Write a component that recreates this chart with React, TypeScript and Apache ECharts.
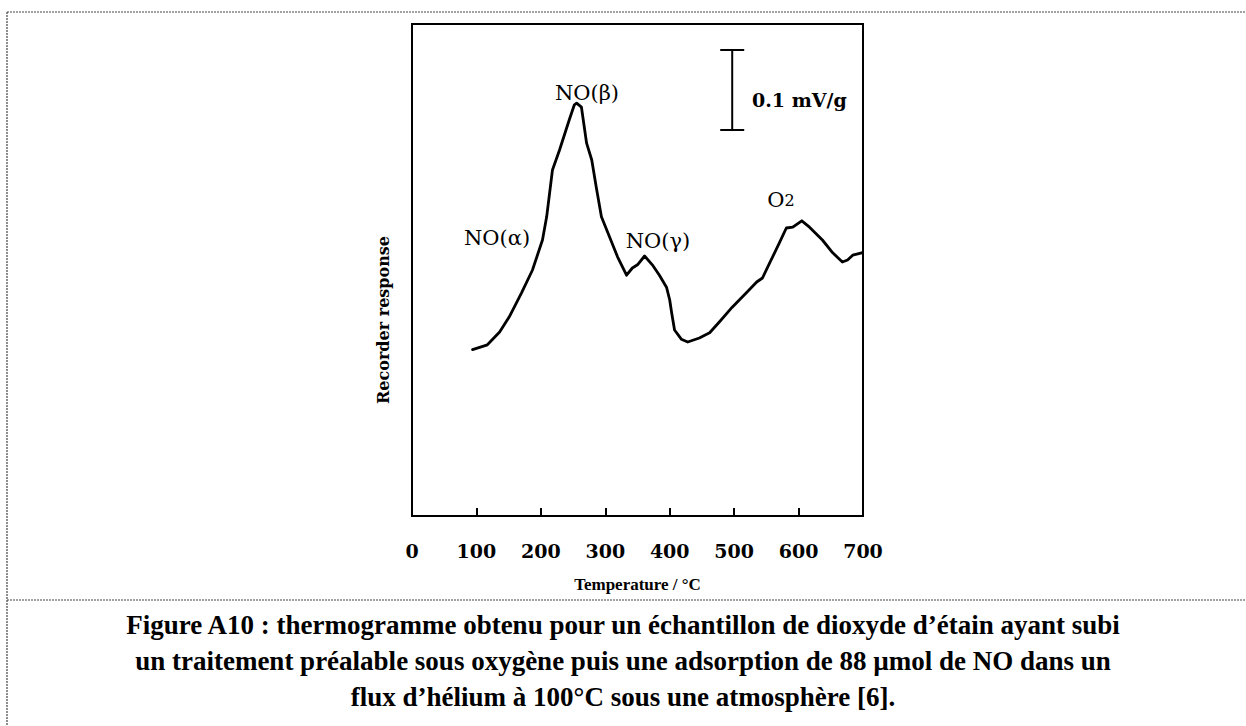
import React, { useEffect, useRef } from "react";
import * as echarts from "echarts";

// Temperature (°C) and recorder response (mV/g, relative)
const temperatures: number[] = [
  94, 117, 136, 151, 170, 187, 202.5, 209, 218, 229, 244, 252, 255.5, 263, 271, 279, 286, 294,
  306.5, 319, 333, 342, 350, 361, 373, 384, 395, 400, 403, 407.5, 418, 428, 446, 462, 477,
  497, 519, 535, 544, 555, 570, 581, 591, 605, 617, 637, 653, 668, 676, 684, 698,
];
const response: number[] = [
  0.208, 0.214, 0.23, 0.249, 0.279, 0.3075, 0.345, 0.374, 0.4325, 0.4575, 0.495, 0.514, 0.516,
  0.511, 0.466, 0.445, 0.411, 0.374, 0.349, 0.324, 0.301, 0.31, 0.314, 0.325, 0.314, 0.301,
  0.286, 0.27, 0.254, 0.2325, 0.221, 0.2175, 0.2225, 0.229, 0.2425, 0.261, 0.279, 0.2925,
  0.2975, 0.316, 0.341, 0.36, 0.361, 0.369, 0.361, 0.345, 0.329, 0.3175, 0.32, 0.326, 0.329,
];

// Scale bar: 0.1 mV/g
const scaleBarTemp = 497;
const scaleBarLow = 0.4825;
const scaleBarHigh = 0.5825;
const scaleBarLabel = "0.1 mV/g";

const xTicks: number[] = [0, 100, 200, 300, 400, 500, 600, 700];
const peakLabels: string[] = ["NO(α)", "NO(β)", "NO(γ)", "O2"];

const captionLines: string[] = [
  "Figure A10 : thermogramme obtenu pour un échantillon de dioxyde d’étain ayant subi",
  "un traitement préalable sous oxygène puis une adsorption de 88 µmol de NO dans un",
  "flux d’hélium à 100°C sous une atmosphère [6].",
];

const xAxisName = "Temperature / °C";
const yAxisName = "Recorder response";

const SERIF = "'DejaVu Serif', serif";
const TIMES = "'Liberation Serif', 'Times New Roman', serif";

export default function App() {
  const ref = useRef<HTMLDivElement>(null);

  useEffect(() => {
    document.body.style.margin = "0";
    if (!ref.current) return;
    const chart = echarts.init(ref.current, undefined, { renderer: "svg" });

    const dash = { stroke: "#444", lineWidth: 1.2, lineDash: [2, 1] };
    const annot = (text: string, x: number, y: number) => ({
      type: "text",
      x,
      y,
      style: {
        text,
        font: `21px ${SERIF}`,
        fill: "#000",
        align: "center",
        verticalAlign: "middle",
      },
    });

    chart.setOption({
      animation: false,
      backgroundColor: "#fff",
      grid: {
        left: 412,
        top: 24,
        width: 451,
        height: 492,
        show: true,
        borderColor: "#000",
        borderWidth: 2,
      },
      xAxis: {
        type: "value",
        min: 0,
        max: 700,
        interval: 100,
        name: xAxisName,
        nameLocation: "middle",
        nameGap: 60,
        nameTextStyle: { fontFamily: TIMES, fontWeight: "bold", fontSize: 17, color: "#000" },
        axisLine: { show: true, lineStyle: { color: "#000", width: 2 } },
        axisTick: { show: true, inside: true, length: 8, lineStyle: { color: "#000", width: 2 } },
        axisLabel: {
          margin: 25,
          fontFamily: SERIF,
          fontWeight: "bold",
          fontSize: 19,
          color: "#000",
          formatter: (v: number) => (xTicks.includes(v) ? String(v) : ""),
        },
        splitLine: { show: false },
      },
      yAxis: {
        type: "value",
        min: 0,
        max: 0.615,
        axisLine: { show: true, lineStyle: { color: "#000", width: 2 } },
        axisTick: { show: false },
        axisLabel: { show: false },
        splitLine: { show: false },
      },
      series: [
        {
          type: "line",
          data: temperatures.map((t, i) => [t, response[i]]),
          symbol: "none",
          smooth: false,
          lineStyle: { color: "#000", width: 2.8, join: "round", cap: "round" },
        },
        {
          type: "custom",
          data: [[scaleBarTemp, scaleBarLow, scaleBarHigh]],
          renderItem: (_params: any, api: any) => {
            const x = api.value(0);
            const lo = api.coord([x, api.value(1)]);
            const hi = api.coord([x, api.value(2)]);
            const half = 12;
            const st = { stroke: "#000", lineWidth: 2 };
            return {
              type: "group",
              children: [
                { type: "line", shape: { x1: hi[0], y1: hi[1], x2: lo[0], y2: lo[1] }, style: st },
                { type: "line", shape: { x1: hi[0] - half, y1: hi[1], x2: hi[0] + half, y2: hi[1] }, style: st },
                { type: "line", shape: { x1: lo[0] - half, y1: lo[1], x2: lo[0] + half, y2: lo[1] }, style: st },
              ],
            };
          },
        },
      ],
      graphic: [
        { type: "line", shape: { x1: 7, y1: 12, x2: 1246, y2: 12 }, style: dash },
        { type: "line", shape: { x1: 7, y1: 12, x2: 7, y2: 726 }, style: dash },
        { type: "line", shape: { x1: 7, y1: 600, x2: 1246, y2: 600 }, style: dash },
        annot(peakLabels[0], 497, 238),
        annot(peakLabels[1], 587, 93),
        annot(peakLabels[2], 658, 241),
        {
          type: "text",
          x: 781,
          y: 200,
          style: {
            text: "{o|O}{s|2}",
            rich: {
              o: { font: `21px ${SERIF}`, fill: "#000" },
              s: { font: `16px ${SERIF}`, fill: "#000" },
            },
            align: "center",
            verticalAlign: "middle",
          },
        },
        {
          type: "text",
          x: 752,
          y: 100,
          style: {
            text: scaleBarLabel,
            font: `bold 19px ${SERIF}`,
            fill: "#000",
            align: "left",
            verticalAlign: "middle",
          },
        },
        {
          type: "text",
          x: 383,
          y: 320,
          rotation: Math.PI / 2,
          style: {
            text: yAxisName,
            font: `bold 16px ${SERIF}`,
            fill: "#000",
            align: "center",
            verticalAlign: "middle",
          },
        },
        ...captionLines.map((t, i) => ({
          type: "text",
          x: 623,
          y: 625 + i * 36,
          style: {
            text: t,
            font: `bold 27px ${TIMES}`,
            fill: "#000",
            align: "center",
            verticalAlign: "middle",
          },
        })),
      ],
    });

    return () => chart.dispose();
  }, []);

  return <div ref={ref} style={{ width: 1246, height: 726 }} />;
}
